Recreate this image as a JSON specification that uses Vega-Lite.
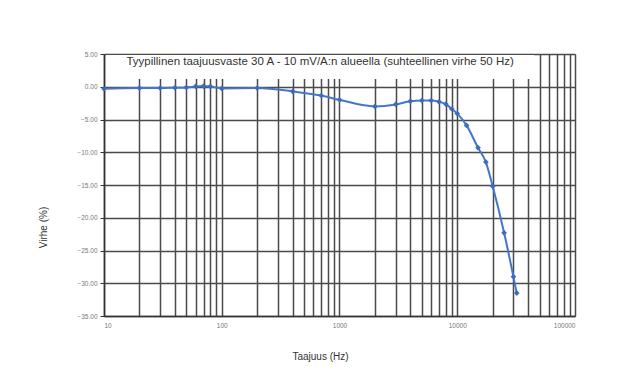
{
  "$schema": "https://vega.github.io/schema/vega-lite/v6.json",
  "autosize": "none",
  "width": 471,
  "height": 262,
  "padding": {"left": 104, "top": 54, "right": 52, "bottom": 55},
  "background": "white",
  "config": {
    "view": {"stroke": null},
    "font": "Liberation Sans",
    "axis": {
      "gridColor": "#4a4a4a",
      "gridWidth": 1.5,
      "gridOpacity": 1,
      "domainColor": "#333333",
      "domainWidth": 1.5,
      "tickColor": "#333333",
      "labelColor": "#777777",
      "labelFont": "Liberation Sans",
      "labelFontSize": 6.5,
      "titleFont": "Liberation Sans",
      "titleFontSize": 10,
      "titleFontWeight": "normal",
      "titleColor": "#333333"
    }
  },
  "data": {
    "values": [
      {"f": 10, "err": -0.3},
      {"f": 20, "err": -0.2},
      {"f": 30, "err": -0.2},
      {"f": 40, "err": -0.15},
      {"f": 50, "err": -0.1},
      {"f": 60, "err": 0.05},
      {"f": 70, "err": 0.1},
      {"f": 80, "err": 0.05},
      {"f": 100, "err": -0.25},
      {"f": 200, "err": -0.2},
      {"f": 400, "err": -0.7},
      {"f": 700, "err": -1.35},
      {"f": 1000, "err": -2.0},
      {"f": 2000, "err": -3.0},
      {"f": 3000, "err": -2.7},
      {"f": 4000, "err": -2.2},
      {"f": 5000, "err": -2.1},
      {"f": 6000, "err": -2.1},
      {"f": 7000, "err": -2.3},
      {"f": 8000, "err": -2.65},
      {"f": 9000, "err": -3.4},
      {"f": 10000, "err": -4.1},
      {"f": 12000, "err": -5.9},
      {"f": 15000, "err": -9.3},
      {"f": 17500, "err": -11.5},
      {"f": 20000, "err": -15.2},
      {"f": 25000, "err": -22.3},
      {"f": 30000, "err": -29.0},
      {"f": 32000, "err": -31.5}
    ]
  },
  "encoding": {
    "x": {
      "field": "f",
      "type": "quantitative",
      "scale": {"type": "log", "domain": [10, 100000], "nice": false},
      "axis": {
        "title": "Taajuus (Hz)",
        "titleX": 216,
        "titleY": 40,
        "titleBaseline": "middle",
        "values": [10,20,30,40,50,60,70,80,90,100,200,300,400,500,600,700,800,900,1000,2000,3000,4000,5000,6000,7000,8000,9000,10000,20000,30000,40000,50000,60000,70000,80000,90000,100000],
        "labelExpr": "indexof([10,100,1000,10000,100000], datum.value) >= 0 ? datum.value + '' : ''",
        "ticks": false,
        "labelPadding": 6,
        "domain": true
      }
    },
    "y": {
      "field": "err",
      "type": "quantitative",
      "scale": {"domain": [-35, 5], "nice": false},
      "axis": {
        "title": "Virhe (%)",
        "titleX": -61,
        "titleY": 173,
        "titleAlign": "center",
        "titleBaseline": "middle",
        "values": [5, 0, -5, -10, -15, -20, -25, -30, -35],
        "format": ".2f",
        "tickSize": 4,
        "labelPadding": 3
      }
    }
  },
  "layer": [
    {
      "transform": [{"filter": "datum.f === 10"}],
      "mark": {"type": "rect", "color": "white"},
      "encoding": {
        "x": {"datum": 10.4},
        "x2": {"datum": 45000},
        "y": {"datum": 1.2},
        "y2": {"datum": 4.85}
      }
    },
    {
      "transform": [{"filter": "datum.f === 10"}],
      "mark": {
        "type": "text",
        "text": "Tyypillinen taajuusvaste 30 A - 10 mV/A:n alueella (suhteellinen virhe 50 Hz)",
        "font": "Liberation Sans",
        "fontSize": 11.5,
        "color": "#333333",
        "align": "center",
        "baseline": "middle"
      },
      "encoding": {
        "x": {"datum": 684},
        "y": {"datum": 3.8}
      }
    },
    {
      "mark": {
        "type": "line",
        "interpolate": "monotone",
        "color": "#4677c4",
        "strokeWidth": 2,
        "point": {"filled": true, "shape": "diamond", "size": 32, "color": "#3a6cbf"}
      }
    }
  ]
}
